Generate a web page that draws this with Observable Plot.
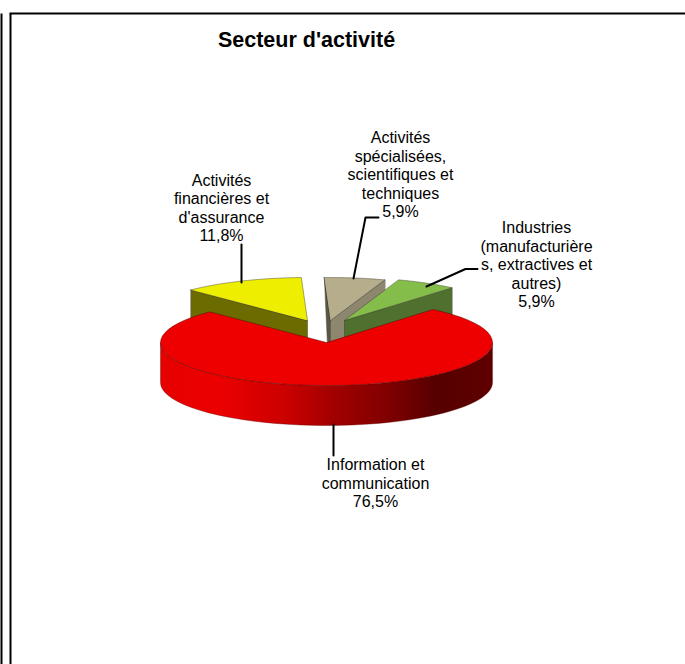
<!DOCTYPE html>
<html>
<head>
<meta charset="utf-8">
<style>html,body{margin:0;padding:0;background:#fff}svg{display:block}</style>
<script src="https://cdn.jsdelivr.net/npm/d3@7"></script>
<script src="https://cdn.jsdelivr.net/npm/@observablehq/plot@0.6"></script>
</head>
<body>
<div id="chart"></div>
<script>
// ---- data ----
const sectors = ["Information et communication", "Activités financières et d'assurance", "Activités spécialisées, scientifiques et techniques", "Industries (manufacturières, extractives et autres)"];
const shares = [76.5, 11.8, 5.9, 5.9];
const shareLabels = ["76,5%", "11,8%", "5,9%", "5,9%"];
const labelLines = [
  ["Information et", "communication"],
  ["Activités", "financières et", "d'assurance"],
  ["Activités", "spécialisées,", "scientifiques et", "techniques"],
  ["Industries", "(manufacturière", "s, extractives et", "autres)"]
];
const title = "Secteur d'activité";

// ---- styles / layout ----
const topColors = ["#ee0000", "#eeee00", "#b5ad8b", "#85bd4a"];
const wallColors = ["url(#redWall)", "#6b6b00", "#8d8770", "#50702f"];
const sideColor = "#5b5644";
const W = 685, H = 664, cx = 326, cy = 342, rx = 166, ry = 43, depth = 40;
const startDeg = 40; // clockwise from the top of the ellipse
const explode = [[0, 0], [-19, -22], [4, -22], [18, -22]];

const toRad = d3.scaleLinear().domain([0, 100]).range([0, 2 * Math.PI]);
let acc = 0;
const slices = shares.map((v, i) => {
  const a0 = startDeg * Math.PI / 180 + toRad(acc);
  acc += v;
  const a1 = startDeg * Math.PI / 180 + toRad(acc);
  const [ex, ey] = explode[i];
  return {i, a0, a1, c: [cx + ex, cy + ey]};
});
const rim = (s, a) => [s.c[0] + rx * Math.sin(a), s.c[1] - ry * Math.cos(a)];
const arcPts = (s, a0, a1) => d3.range(0, 61).map(k => rim(s, a0 + (a1 - a0) * k / 60));
const down = (p, d = depth) => [p[0], p[1] + d];

const polys = [];
const add = (pts, fill, stroke = "#3a3a2a", strokeOpacity = 0.55) => {
  const id = polys.length;
  pts.forEach(p => polys.push({id, x: p[0], y: p[1], fill, stroke, strokeOpacity}));
};
// painter's order: exploded slices, back to front, then the big slice
const [red, yellow, tan, green] = slices;
// yellow
add([rim(yellow, yellow.a0), yellow.c, down(yellow.c), down(rim(yellow, yellow.a0))], wallColors[1]);
add([...arcPts(yellow, yellow.a0, yellow.a1), yellow.c], topColors[1]);
// tan
const tanOuter = rim(tan, tan.a0);
add([tanOuter, tan.c, down(tan.c), [tanOuter[0] + 3.5, tanOuter[1] + 75]], sideColor);
add([rim(tan, tan.a1), tan.c, down(tan.c), down(rim(tan, tan.a1))], wallColors[2]);
add([...arcPts(tan, tan.a0, tan.a1), tan.c], topColors[2]);
// green
add([rim(green, green.a1), green.c, down(green.c), down(rim(green, green.a1))], wallColors[3]);
add([...arcPts(green, green.a0, green.a1), green.c], topColors[3]);
// red wall (front half of the rim) and top
const wallTop = arcPts(red, Math.PI / 2, 3 * Math.PI / 2);
add([...wallTop, ...wallTop.slice().reverse().map(p => down(p))], wallColors[0], "#5a0000", 0.45);
add([...arcPts(red, red.a0, red.a1), red.c], topColors[0], "#500000", 0.55);

const leaders = [
  {id: 0, pts: [[333, 424], [333, 455]]},
  {id: 1, pts: [[241, 244], [241, 282]]},
  {id: 2, pts: [[378, 217], [365, 217], [353, 278]]},
  {id: 3, pts: [[477, 268.5], [465, 268.5], [426, 286]]}
].flatMap(l => l.pts.map(p => ({id: l.id, x: p[0], y: p[1]})));

const lineH = 18.5;
const labelPos = [[375, 464.5], [221, 180], [400, 137.5], [536, 227.5]];
const labels = labelLines.flatMap((lines, i) =>
  [...lines, shareLabels[i]].map((t, k) => ({t, x: labelPos[i][0], y: labelPos[i][1] + k * lineH}))
);

const defs = () => {
  const svgNS = "http://www.w3.org/2000/svg";
  const d = document.createElementNS(svgNS, "defs");
  const g = document.createElementNS(svgNS, "linearGradient");
  g.setAttribute("id", "redWall");
  g.setAttribute("gradientUnits", "userSpaceOnUse");
  g.setAttribute("x1", cx - rx); g.setAttribute("x2", cx + rx);
  g.setAttribute("y1", 0); g.setAttribute("y2", 0);
  [[0, "#e60000"], [0.17, "#ec0000"], [0.37, "#cc0000"], [0.52, "#a20000"], [0.67, "#830000"], [0.83, "#560000"], [1, "#5f0000"]]
    .forEach(([o, c]) => {
      const s = document.createElementNS(svgNS, "stop");
      s.setAttribute("offset", o); s.setAttribute("stop-color", c);
      g.appendChild(s);
    });
  d.appendChild(g);
  return d;
};

const frame = [
  {x1: 1, y1: 13, x2: 1, y2: H},
  {x1: 9, y1: 13, x2: W, y2: 13},
  {x1: 10, y1: 13, x2: 10, y2: H}
];

const chart = Plot.plot({
  width: W, height: H, margin: 0,
  x: {domain: [0, W], range: [0, W], axis: null},
  y: {domain: [0, H], range: [0, H], axis: null},
  marks: [
    defs,
    Plot.link(frame, {x1: "x1", y1: "y1", x2: "x2", y2: "y2", stroke: "#000", strokeWidth: 2}),
    Plot.line(polys, {x: "x", y: "y", z: "id", fill: "fill", stroke: "stroke", strokeOpacity: "strokeOpacity", strokeWidth: 0.8, curve: "linear-closed"}),
    Plot.line(leaders, {x: "x", y: "y", z: "id", stroke: "#000", strokeWidth: 2}),
    Plot.text(labels, {x: "x", y: "y", text: "t", fontFamily: "Liberation Sans", fontSize: 16, fill: "#000", textAnchor: "middle", lineAnchor: "middle"}),
    Plot.text([title], {x: [306], y: [40], text: d => d, fontFamily: "Liberation Sans", fontWeight: "bold", fontSize: 21.5, fill: "#000", textAnchor: "middle", lineAnchor: "middle"})
  ]
});
chart.setAttribute("style", "background:#fff;display:block");
document.getElementById("chart").appendChild(chart);
</script>
</body>
</html>
